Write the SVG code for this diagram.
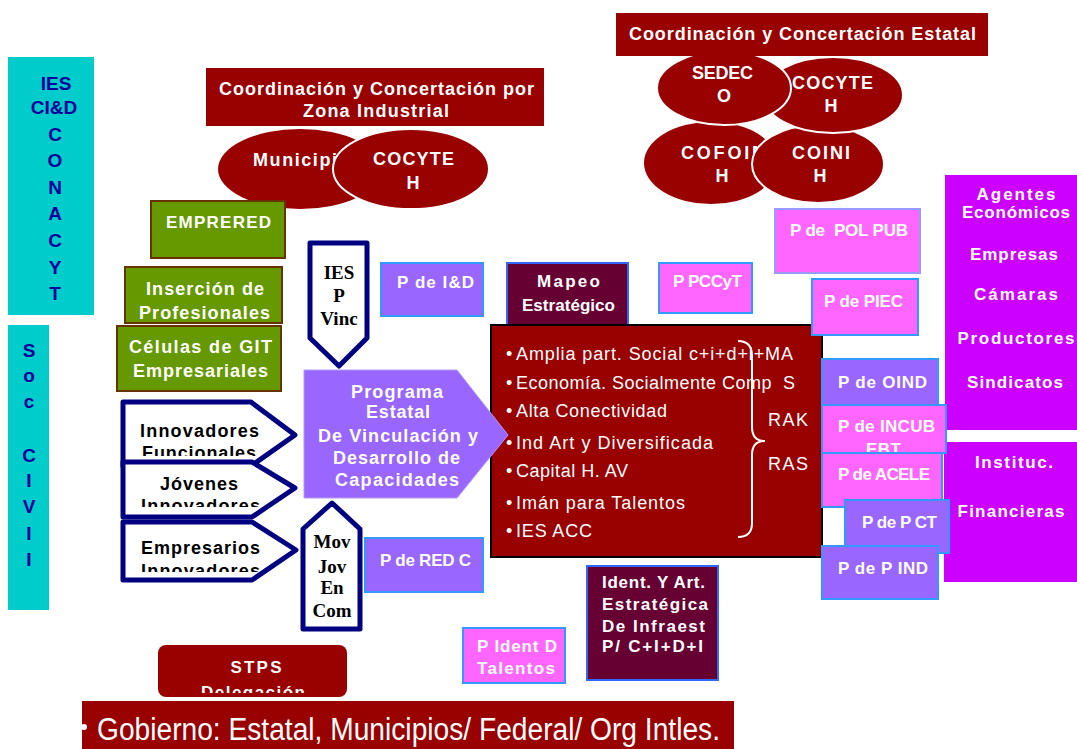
<svg xmlns="http://www.w3.org/2000/svg" width="1077" height="749" viewBox="0 0 1077 749">
<style>
text { font-family: "Liberation Sans", Arial, sans-serif; }
.wb { fill:#fff; font-weight:bold; font-size:17px; }
.wb17 { fill:#fff; font-weight:bold; font-size:18px; }
.nv { fill:#000099; font-weight:bold; font-size:19px; text-anchor:middle; }
.bk { fill:#000; font-weight:bold; font-size:18px; }
.sf { fill:#000; font-family:"Liberation Serif","Times New Roman",serif; font-weight:bold; font-size:19px; text-anchor:middle; }
.li { fill:#fff; font-size:18px; }
.red { fill:#990000; }
.ell { fill:#990000; stroke:#fff; stroke-width:2; }
.grn { fill:#669900; stroke:#663300; stroke-width:2; }
.cy { fill:#00CCCC; }
.pur { fill:#9966FF; stroke:#3399FF; stroke-width:2; }
.pnk { fill:#FF66FF; stroke:#3399FF; stroke-width:2; }
.mar { fill:#660033; stroke:#3366FF; stroke-width:2; }
.mag { fill:#CC00FF; }
.arr { fill:#fff; stroke:#000080; stroke-width:5; stroke-linejoin:round; }
.mid { text-anchor:middle; }
</style>
<defs>
<clipPath id="c1"><rect x="120" y="400" width="180" height="56"/></clipPath>
<clipPath id="c2"><rect x="120" y="460" width="180" height="47"/></clipPath>
<clipPath id="c3"><rect x="120" y="520" width="180" height="52"/></clipPath>
<clipPath id="c4"><rect x="150" y="640" width="200" height="53"/></clipPath>
<clipPath id="c5"><rect x="82" y="701" width="652" height="48"/></clipPath>
</defs>

<!-- left cyan columns -->
<g id="ies-conacyt">
<rect class="cy" x="8" y="57" width="86" height="258"/>
<text class="nv" x="56" y="90">IES</text>
<text class="nv" x="54" y="114">CI&amp;D</text>
<text class="nv" x="55" y="141">C</text>
<text class="nv" x="55" y="167">O</text>
<text class="nv" x="55" y="194">N</text>
<text class="nv" x="55" y="220">A</text>
<text class="nv" x="55" y="247">C</text>
<text class="nv" x="55" y="274">Y</text>
<text class="nv" x="55" y="300">T</text>
</g>
<g id="soc-civil">
<rect class="cy" x="8" y="325" width="41" height="285"/>
<text class="nv" x="29" y="357">S</text>
<text class="nv" x="29" y="382">o</text>
<text class="nv" x="29" y="408">c</text>
<text class="nv" x="29" y="462">C</text>
<text class="nv" x="29" y="487">I</text>
<text class="nv" x="29" y="513">V</text>
<text class="nv" x="29" y="540">I</text>
<text class="nv" x="29" y="566">I</text>
</g>

<!-- zona industrial -->
<g id="coord-zona">
<rect class="red" x="206" y="68" width="338" height="58"/>
<text class="wb17" x="219" y="95" textLength="315">Coordinación y Concertación por</text>
<text class="wb17" x="303" y="117" textLength="146">Zona Industrial</text>
</g>
<g id="municipi">
<ellipse class="red" cx="300" cy="169" rx="82" ry="40"/>
<text class="wb17" x="253" y="166" textLength="84">Municipi</text>
</g>
<g id="cocyteh-zona">
<ellipse class="ell" cx="411" cy="169" rx="78" ry="40"/>
<text class="wb17" x="373" y="165" textLength="81">COCYTE</text>
<text class="wb17 mid" x="413" y="189">H</text>
</g>

<!-- estatal -->
<g id="cofoimh">
<ellipse class="red" cx="711" cy="163" rx="67" ry="41"/>
<text class="wb17" x="681" y="159" textLength="86">COFOIM</text>
<text class="wb17 mid" x="722" y="182">H</text>
</g>
<g id="coinih">
<ellipse class="ell" cx="818" cy="164" rx="66" ry="39"/>
<text class="wb17" x="792" y="159" textLength="58">COINI</text>
<text class="wb17 mid" x="820" y="182">H</text>
</g>
<g id="cocyteh-est">
<ellipse class="ell" cx="833" cy="95" rx="70" ry="38"/>
<text class="wb17" x="792" y="89" textLength="81">COCYTE</text>
<text class="wb17 mid" x="831" y="112">H</text>
</g>
<g id="sedeco">
<ellipse class="ell" cx="724" cy="88" rx="67" ry="37"/>
<text class="wb17" x="692" y="79" textLength="61">SEDEC</text>
<text class="wb17 mid" x="724" y="102">O</text>
</g>
<g id="coord-estatal">
<rect class="red" x="616" y="13" width="372" height="43"/>
<text class="wb17" x="629" y="40" textLength="347">Coordinación y Concertación Estatal</text>
</g>

<!-- green boxes -->
<g id="emprered">
<rect class="grn" x="151" y="201" width="134" height="57"/>
<text class="wb" x="166" y="228" textLength="105">EMPRERED</text>
</g>
<g id="insercion">
<rect class="grn" x="125" y="267" width="157" height="56"/>
<text class="wb17" x="146" y="295" textLength="118">Inserción de</text>
<text class="wb17" x="139" y="319" textLength="131">Profesionales</text>
</g>
<g id="celulas">
<rect class="grn" x="117" y="326" width="164" height="65"/>
<text class="wb17" x="129" y="353" textLength="143">Células de GIT</text>
<text class="wb17" x="133" y="377" textLength="135">Empresariales</text>
</g>

<!-- pentagon arrows left -->
<g id="innov-func">
<path class="arr" d="M123,402 H251 L295,435 L251,466 H123 Z"/>
<g clip-path="url(#c1)">
<text class="bk" x="140" y="437" textLength="119">Innovadores</text>
<text class="bk" x="142" y="459" textLength="114">Funcionales</text>
</g>
</g>
<g id="jovenes">
<path class="arr" d="M123,462 H252 L295,488 L252,517 H123 Z"/>
<g clip-path="url(#c2)">
<text class="bk" x="160" y="490" textLength="78">Jóvenes</text>
<text class="bk" x="141" y="512" textLength="119">Innovadores</text>
</g>
</g>
<g id="empresarios">
<path class="arr" d="M123,522 H252 L296,550 L252,580 H123 Z"/>
<g clip-path="url(#c3)">
<text class="bk" x="141" y="554" textLength="119">Empresarios</text>
<text class="bk" x="141" y="577" textLength="119">Innovadores</text>
</g>
</g>

<!-- IES P Vinc -->
<g id="ies-p-vinc">
<path class="arr" d="M310,243 H367 V338 L339,366 L310,338 Z"/>
<text class="sf" x="339" y="279">IES</text>
<text class="sf" x="339" y="302">P</text>
<text class="sf" x="339" y="325">Vinc</text>
</g>
<!-- Mov Jov En Com -->
<g id="mov-jov">
<path class="arr" d="M332,503 L360,529 V629 H303 V529 Z"/>
<text class="sf" x="332" y="548">Mov</text>
<text class="sf" x="332" y="573">Jov</text>
<text class="sf" x="332" y="594">En</text>
<text class="sf" x="332" y="617">Com</text>
</g>

<!-- small program boxes -->
<g id="p-id">
<rect class="pur" x="381" y="263" width="102" height="53"/>
<text class="wb" x="397" y="288" textLength="77">P de I&amp;D</text>
</g>
<g id="mapeo">
<rect class="mar" x="507" y="263" width="121" height="62"/>
<text class="wb" x="537" y="287" textLength="63">Mapeo</text>
<text class="wb" x="522" y="311" textLength="93">Estratégico</text>
</g>
<g id="p-pccyt">
<rect class="pnk" x="659" y="263" width="93" height="50"/>
<text class="wb" x="673" y="287" textLength="69">P PCCyT</text>
</g>
<g id="p-redc">
<rect class="pur" x="365" y="538" width="118" height="54"/>
<text class="wb" x="380" y="566" textLength="91">P de RED C</text>
</g>

<!-- main red box -->
<g id="objetivos">
<rect x="491" y="325" width="331" height="232" fill="#990000" stroke="#000" stroke-width="2"/>
<g class="li">
<text x="506" y="360">•</text><text x="516" y="360" textLength="277">Amplia part. Social c+i+d+i+MA</text>
<text x="506" y="389">•</text><text x="516" y="389" textLength="279" style="white-space:pre">Economía. Socialmente Comp  S</text>
<text x="506" y="417">•</text><text x="516" y="417" textLength="151">Alta Conectividad</text>
<text x="506" y="449">•</text><text x="516" y="449" textLength="197">Ind Art y Diversificada</text>
<text x="506" y="477">•</text><text x="516" y="477" textLength="112">Capital H. AV</text>
<text x="506" y="509">•</text><text x="516" y="509" textLength="169">Imán para Talentos</text>
<text x="506" y="537">•</text><text x="516" y="537" textLength="76">IES ACC</text>
<text x="768" y="426" textLength="40">RAK</text>
<text x="768" y="470" textLength="40">RAS</text>
</g>
<path d="M738,341 Q752,341 752,356 V427 Q752,441 765,441 Q752,441 752,455 V523 Q752,537 738,537" fill="none" stroke="#fff" stroke-width="2"/>
</g>

<!-- Programa Estatal -->
<g id="programa">
<path d="M304,370 H457 L508,435 L457,498 H304 Z" fill="#9966FF" stroke="#B399FF" stroke-width="1"/>
<text class="wb17" x="351" y="398" textLength="92">Programa</text>
<text class="wb17" x="366" y="418" textLength="64">Estatal</text>
<text class="wb17" x="318" y="442" textLength="160">De Vinculación y</text>
<text class="wb17" x="333" y="464" textLength="127">Desarrollo de</text>
<text class="wb17" x="335" y="486" textLength="124">Capacidades</text>
</g>

<!-- right magenta -->
<g id="agentes">
<rect class="mag" x="945" y="175" width="132" height="255"/>
<g class="wb mid">
<text x="1016" y="200" textLength="79">Agentes</text>
<text x="1016" y="218" textLength="108">Económicos</text>
<text x="1014" y="260" textLength="88">Empresas</text>
<text x="1016" y="300" textLength="84">Cámaras</text>
<text x="1016" y="344" textLength="117">Productores</text>
<text x="1015" y="388" textLength="96">Sindicatos</text>
</g>
</g>
<g id="financieras">
<rect class="mag" x="944" y="442" width="133" height="140"/>
<text class="wb mid" x="1014" y="468" textLength="78">Instituc.</text>
<text class="wb mid" x="1011" y="517" textLength="107">Financieras</text>
</g>

<g id="p-polpub">
<rect x="775" y="209" width="145" height="64" fill="#FF66FF" stroke="#9999FF" stroke-width="2"/>
<text class="wb" x="790" y="236" textLength="118" style="white-space:pre">P de  POL PUB</text>
</g>
<g id="p-piec">
<rect class="pnk" x="812" y="279" width="106" height="56"/>
<text class="wb" x="824" y="307" textLength="79">P de PIEC</text>
</g>
<g id="p-oind">
<rect class="pur" x="822" y="359" width="116" height="46"/>
<text class="wb" x="838" y="388" textLength="89">P de OIND</text>
</g>
<g id="p-incub">
<rect class="pnk" x="822" y="405" width="124" height="48"/>
<text class="wb" x="838" y="432" textLength="97">P de INCUB</text>
<text class="wb" x="866" y="455" textLength="35">EBT</text>
</g>
<g id="p-acele">
<rect class="pnk" x="822" y="453" width="120" height="54"/>
<text class="wb" x="838" y="480" textLength="92">P de ACELE</text>
</g>
<g id="p-pct">
<rect class="pur" x="845" y="500" width="104" height="53"/>
<text class="wb" x="862" y="528" textLength="75">P de P CT</text>
</g>
<g id="p-pind">
<rect class="pur" x="822" y="546" width="116" height="53"/>
<text class="wb" x="838" y="574" textLength="90">P de P IND</text>
</g>

<!-- bottom -->
<g id="ident-infra">
<rect class="mar" x="587" y="566" width="131" height="114"/>
<text class="wb" x="602" y="588" textLength="103">Ident. Y Art.</text>
<text class="wb" x="602" y="610" textLength="106">Estratégica</text>
<text class="wb" x="602" y="632" textLength="103">De Infraest</text>
<text class="wb" x="602" y="652" textLength="101">P/ C+I+D+I</text>
</g>
<g id="p-ident-talentos">
<rect class="pnk" x="463" y="628" width="102" height="55"/>
<text class="wb" x="477" y="652" textLength="80">P Ident D</text>
<text class="wb" x="477" y="674" textLength="78">Talentos</text>
</g>
<g id="stps">
<rect class="red" x="158" y="645" width="189" height="52" rx="8"/>
<text class="wb mid" x="256" y="673" textLength="51">STPS</text>
<g clip-path="url(#c4)"><text class="wb mid" x="253" y="698" textLength="104">Delegación</text></g>
</g>
<g id="gobierno">
<rect class="red" x="82" y="701" width="652" height="48"/>
<circle cx="84" cy="727" r="3" fill="#fff" clip-path="url(#c5)"/>
<text x="97" y="740" fill="#fff" font-size="31" textLength="623" lengthAdjust="spacingAndGlyphs">Gobierno: Estatal, Municipios/ Federal/ Org Intles.</text>
</g>
</svg>
